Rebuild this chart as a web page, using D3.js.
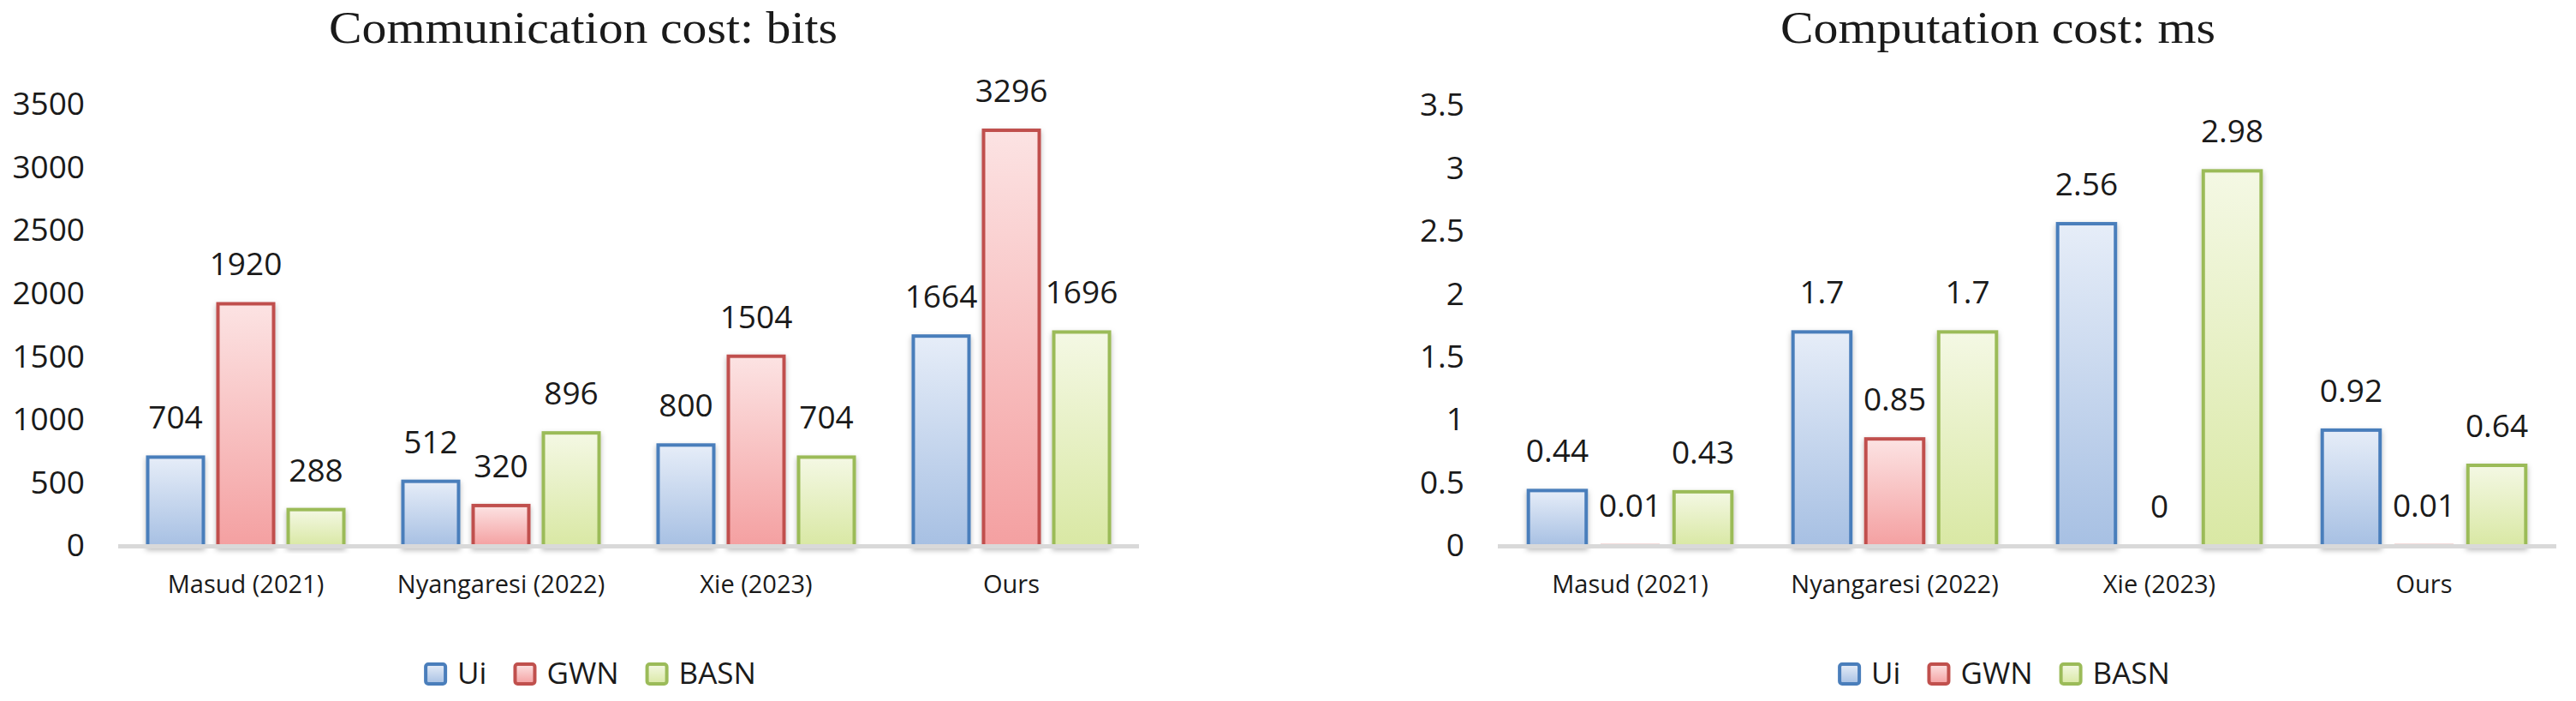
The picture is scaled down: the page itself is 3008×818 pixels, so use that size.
<!DOCTYPE html>
<html>
<head>
<meta charset="utf-8">
<script src="https://cdn.jsdelivr.net/npm/d3@7"></script>
<style>
  body { margin: 0; background: #fff; }
</style>
</head>
<body>
<div id="chart"></div>
<script>
// Data
const categories = ["Masud (2021)", "Nyangaresi (2022)", "Xie (2023)", "Ours"];
const series = ["Ui", "GWN", "BASN"];

const commUi = [704, 512, 800, 1664];
const commGWN = [1920, 320, 1504, 3296];
const commBASN = [288, 896, 704, 1696];
const commTicks = [0, 500, 1000, 1500, 2000, 2500, 3000, 3500];

const compUi = [0.44, 1.7, 2.56, 0.92];
const compGWN = [0.01, 0.85, 0, 0.01];
const compBASN = [0.43, 1.7, 2.98, 0.64];
const compTicks = [0, 0.5, 1, 1.5, 2, 2.5, 3, 3.5];

// Colours: stroke, gradient top, gradient bottom
const strokeColor = {Ui: "#4A7EBB", GWN: "#C0504D", BASN: "#9BBB59"};
const gradTop = {Ui: "#E6EDF8", GWN: "#FCE3E3", BASN: "#F4F8E4"};
const gradBottom = {Ui: "#A7C0E3", GWN: "#F4A0A1", BASN: "#D9E8A4"};

const sansFont = "'Open Sans', 'Noto Sans', sans-serif";
const serifFont = "'Liberation Serif', 'DejaVu Serif', serif";

// Step 1: SVG canvas
const svg = d3.select("#chart")
  .append("svg")
  .attr("width", 3008)
  .attr("height", 818)
  .style("background", "#fff");

// Step 2: Gradients and shadow
const defs = svg.append("defs");
series.forEach(s => {
  const g = defs.append("linearGradient")
    .attr("id", "grad-" + s)
    .attr("x1", 0).attr("y1", 0).attr("x2", 0).attr("y2", 1);
  g.append("stop").attr("offset", "0%").attr("stop-color", gradTop[s]);
  g.append("stop").attr("offset", "100%").attr("stop-color", gradBottom[s]);
});
const shadow = defs.append("filter")
  .attr("id", "shadow")
  .attr("x", "-30%").attr("y", "-10%").attr("width", "160%").attr("height", "130%");
shadow.append("feDropShadow")
  .attr("dx", 0).attr("dy", 3)
  .attr("stdDeviation", 3)
  .attr("flood-color", "#000")
  .attr("flood-opacity", 0.28);

// Step 3: one grouped bar chart
function drawChart(opt) {
  const data = categories.map((c, i) => ({
    category: c,
    values: series.map((s, j) => ({key: s, value: opt.values[j][i]}))
  }));

  const x = d3.scaleBand()
    .domain(categories)
    .range([opt.x0, opt.x1]);

  const x1 = d3.scaleBand()
    .domain(series)
    .range([0, x.bandwidth()])
    .paddingInner(0.1585)
    .paddingOuter(0.396);

  const y = d3.scaleLinear()
    .domain([0, opt.max])
    .range([637, opt.yTop]);

  const g = svg.append("g");

  // Title
  g.append("text")
    .attr("x", opt.titleX)
    .attr("y", 50)
    .attr("text-anchor", "middle")
    .attr("textLength", opt.titleWidth)
    .attr("lengthAdjust", "spacingAndGlyphs")
    .style("font-family", serifFont)
    .style("font-size", "52px")
    .style("fill", "#1a1a1a")
    .text(opt.title);

  // Y axis labels
  const yAxis = g.append("g")
    .attr("transform", `translate(${opt.x0 - 39},0)`)
    .call(d3.axisLeft(y).tickValues(opt.ticks).tickSize(0).tickPadding(0).tickFormat(d3.format("")));
  yAxis.select(".domain").remove();
  yAxis.selectAll("text")
    .style("font-family", sansFont)
    .style("font-size", "37px")
    .style("fill", "#1a1a1a");

  // Bars
  const groups = g.selectAll(".group")
    .data(data)
    .enter()
    .append("g")
    .attr("transform", d => `translate(${x(d.category)},0)`);

  groups.selectAll("rect")
    .data(d => d.values)
    .enter()
    .append("rect")
    .attr("x", d => x1(d.key) + 2)
    .attr("y", d => y(d.value))
    .attr("width", x1.bandwidth() - 4)
    .attr("height", d => y(0) - y(d.value))
    .attr("fill", d => `url(#grad-${d.key})`)
    .attr("stroke", d => strokeColor[d.key])
    .attr("stroke-width", d => Math.min(4, y(0) - y(d.value)))
    .attr("filter", d => (y(0) - y(d.value)) > 4 ? "url(#shadow)" : null);

  // Value labels
  groups.selectAll(".val")
    .data(d => d.values)
    .enter()
    .append("text")
    .attr("x", d => x1(d.key) + x1.bandwidth() / 2)
    .attr("y", d => y(d.value) - 33)
    .attr("text-anchor", "middle")
    .style("font-family", sansFont)
    .style("font-size", "37px")
    .style("fill", "#1a1a1a")
    .text(d => d.value);

  // Baseline
  g.append("line")
    .attr("x1", opt.x0)
    .attr("x2", opt.x1)
    .attr("y1", 637.5)
    .attr("y2", 637.5)
    .attr("stroke", "#D9D9D9")
    .attr("stroke-width", 5);

  // Category labels
  g.selectAll(".cat")
    .data(categories)
    .enter()
    .append("text")
    .attr("x", d => x(d) + x.bandwidth() / 2)
    .attr("y", 692)
    .attr("text-anchor", "middle")
    .style("font-family", sansFont)
    .style("font-size", "29px")
    .style("fill", "#1a1a1a")
    .text(d => d);

  // Legend
  const legend = g.append("g");
  let cx = 0;
  series.forEach(s => {
    const item = legend.append("g").attr("transform", `translate(${cx},0)`);
    item.append("rect")
      .attr("x", 2).attr("y", 775)
      .attr("width", 23).attr("height", 23)
      .attr("rx", 3)
      .attr("fill", `url(#grad-${s})`)
      .attr("stroke", strokeColor[s])
      .attr("stroke-width", 4);
    const t = item.append("text")
      .attr("x", 39)
      .attr("y", 798)
      .style("font-family", sansFont)
      .style("font-size", "35px")
      .style("fill", "#1a1a1a")
      .text(s);
    cx += 39 + t.node().getComputedTextLength() + 31;
  });
  const legendWidth = cx - 31;
  legend.attr("transform", `translate(${opt.legendX - legendWidth / 2},0)`);
}

// Step 4: draw both charts
drawChart({
  title: "Communication cost: bits",
  titleX: 681, titleWidth: 594,
  values: [commUi, commGWN, commBASN],
  ticks: commTicks, max: 3500, yTop: 122,
  x0: 138, x1: 1330,
  legendX: 689
});

drawChart({
  title: "Computation cost: ms",
  titleX: 2333, titleWidth: 508,
  values: [compUi, compGWN, compBASN],
  ticks: compTicks, max: 3.5, yTop: 123,
  x0: 1749, x1: 2985,
  legendX: 2340
});
</script>
</body>
</html>
